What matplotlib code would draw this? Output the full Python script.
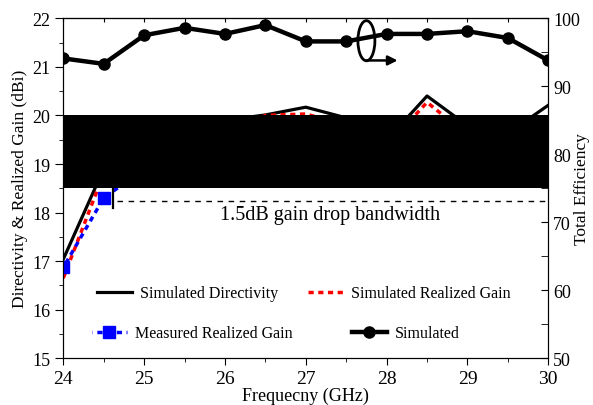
import matplotlib
matplotlib.use('Agg')
from matplotlib import pyplot as plt
from matplotlib.patches import Ellipse

plt.rcParams['font.family'] = ['Liberation Serif', 'DejaVu Serif']

freq = [24.0, 24.5, 25.0, 25.5, 26.0, 26.5, 27.0, 27.5, 28.0, 28.5, 29.0, 29.5, 30.0]
directivity = [17.04, 18.9, 19.5, 19.7, 19.9, 20.01, 20.17, 19.95, 19.49, 20.40, 19.79, 19.63, 20.21]
sim_realized = [16.65, 18.8, 19.3, 19.5, 19.6, 20.0, 20.03, 19.8, 19.37, 20.27, 19.6, 19.5, 19.85]
meas_realized = [16.87, 18.3, 18.9, 19.2, 19.3, 19.5, 19.6, 19.4, 19.2, 19.8, 19.3, 19.1, 19.4]
efficiency = [94.1, 93.3, 97.5, 98.6, 97.7, 99.0, 96.6, 96.6, 97.7, 97.7, 98.1, 97.1, 93.8]

# blacked-out band and 1.5 dB drop marker
band_lo, band_hi = 18.5, 20.0
drop_level = 18.24
drop_start = 24.61

fig = plt.figure(figsize=(5.93, 4.06), dpi=100)
ax = fig.add_axes([0.1067, 0.115, 0.8179, 0.8375])
ax2 = ax.twinx()

l_dir, = ax.plot(freq, directivity, color='black', lw=2.3, zorder=2,
                 label='Simulated Directivity')
l_srg, = ax.plot(freq, sim_realized, color='red', lw=2.5, ls=(0, (1.5, 1.3)), zorder=2,
                 label='Simulated Realized Gain')
l_mrg, = ax.plot(freq, meas_realized, color='blue', lw=2.5, ls=(1.4, (1.5, 1.3)),
                 marker='s', ms=8, zorder=2, label='Measured Realized Gain')
ax.axhspan(band_lo, band_hi, color='black', zorder=3, lw=0)

ax.plot([drop_start, drop_start], [18.1, band_lo], color='black', lw=1.6, zorder=4)
ax.plot([drop_start + 0.05, 30], [drop_level, drop_level], color='black', lw=1,
        ls=(0, (4, 4)), zorder=4)
ax.text(27.3, 17.96, '1.5dB gain drop bandwidth', fontsize=14.5, ha='center', va='center')

ax.set_xlim(24, 30)
ax.set_ylim(15, 22)
ax.set_xticks(range(24, 31))
ax.set_xticks([24.5 + i for i in range(6)], minor=True)
ax.set_yticks(range(15, 23))
ax.set_yticks([15.5 + i for i in range(7)], minor=True)
ax.tick_params(axis='x', which='major', direction='out', length=5, labelsize=14, top=False)
ax.tick_params(axis='x', which='minor', direction='out', length=3, top=False)
ax.tick_params(axis='y', which='major', direction='out', length=6, labelsize=13)
ax.tick_params(axis='y', which='minor', direction='out', length=3)
ax.set_xlabel('Frequecny (GHz)', fontsize=13, labelpad=0)
ax.set_ylabel('Directivity & Realized Gain (dBi)', fontsize=12.5)
ax.yaxis.set_label_coords(-0.073, 0.5)

# top ticks pointing inward
sec = ax.secondary_xaxis('top')
sec.set_xticks([24 + 0.5 * i for i in range(13)])
sec.tick_params(direction='in', length=3, labeltop=False)

l_eff, = ax2.plot(freq, efficiency, color='black', lw=3.2, marker='o', ms=8,
                  label='Simulated')
ax2.set_ylim(50, 100)
ax2.set_yticks(range(50, 101, 10))
ax2.set_yticks(range(55, 100, 10), minor=True)
ax2.tick_params(axis='y', which='both', direction='in', length=5, labelsize=13)
ax2.set_ylabel('Total Efficiency', fontsize=12.5)
ax2.yaxis.set_label_coords(1.053, 0.5)

ax2.add_patch(Ellipse((27.75, 96.7), 0.21, 5.9, fill=False, lw=2, color='black'))
ax2.annotate('', xy=(28.17, 93.8), xytext=(27.72, 93.8),
             arrowprops=dict(arrowstyle='-|>', color='black', lw=1.8, mutation_scale=14))

# two legend rows, each laid out on its own
leg_style = dict(ncol=2, frameon=False, fontsize=11.5, loc='upper left',
                 borderpad=0, borderaxespad=0, handlelength=2.2,
                 handletextpad=0.5, numpoints=1)
row1 = ax2.legend([l_dir, l_srg], ['Simulated Directivity', 'Simulated Realized Gain'],
                  bbox_to_anchor=(0.07, 0.215), columnspacing=1.85, **leg_style)
ax2.add_artist(row1)
ax2.legend([l_mrg, l_eff], ['Measured Realized Gain', 'Simulated'],
           bbox_to_anchor=(0.059, 0.097), columnspacing=3.7, **leg_style)

plt.savefig('out.png', dpi=100)
